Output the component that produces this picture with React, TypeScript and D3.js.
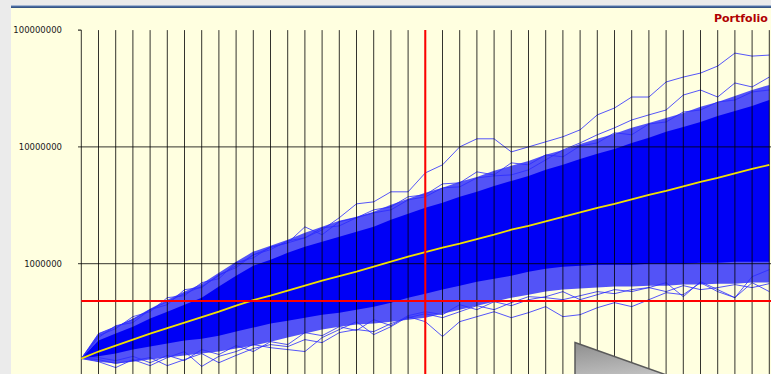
import React from "react";
import * as d3 from "d3";

// Simulation years (x axis categories)
const years = [0,1,2,3,4,5,6,7,8,9,10,11,12,13,14,15,16,17,18,19,20,21,22,23,24,25,26,27,28,29,30,31,32,33,34,35,36,37,38,39,40];

// Portfolio values in thousands
const medianK = [154,177,199,224,252,281,313,349,389,438,488,533,588,649,716,782,855,943,1040,1148,1254,1370,1482,1620,1770,1953,2113,2308,2522,2756,3010,3257,3558,3888,4206,4597,5022,5433,5936,6486,7018];

// outer (sparse-line) envelope of the bundle
const fringeTopK = [154,252,289,339,412,492,577,675,837,1038,1269,1422,1600,1841,2067,2333,2519,2779,3190,3590,4046,4462,5019,5538,6235,6882,7588,8550,9420,10608,11730,12954,14560,16016,17680,19552,22019,24231,27255,30700,33900];
const fringeBottomK = [154,145,140,145,151,157,164,170,177,188,199,215,233,252,273,289,301,307,319,332,345,373,404,437,473,512,543,577,600,612,624,637,637,649,649,662,662,675,675,689,689];

// solid core of the bundle
const coreTopK = [154,220,252,289,339,388,446,512,637,789,962,1080,1238,1394,1538,1702,1875,2067,2380,2672,3006,3318,3740,4125,4637,5118,5647,6360,7020,7895,8721,9608,10816,11960,13462,14808,16346,18431,20294,22451,25200];
const coreBottomK = [154,161,170,184,195,207,220,228,242,263,284,307,325,345,366,381,404,429,464,512,554,600,649,702,745,789,855,907,943,962,981,981,981,1001,1001,1001,1021,1021,1040,1040,1040];

// individual stray paths that stand out of the bundle
const pathHigh1K = [154,252,289,332,404,473,554,637,789,962,1190,1373,1508,1664,1950,2475,3254,3385,4125,4125,5990,7020,10000,11730,11730,9058,10000,11058,12212,14000,18800,21528,26731,26731,35962,39615,42848,49216,63544,59902,61100];
const pathHigh2K = [154,233,295,313,404,446,600,624,805,925,1190,1320,1569,1664,2028,2108,2475,2725,2890,3520,3740,4462,4548,5429,5647,5760,6360,7740,9420,10816,12700,14560,17000,18800,20700,27800,30700,26731,35256,32596,39615];
const pathHigh3K = [154,242,278,352,388,512,532,688,745,1020,1123,1394,1508,2067,1770,2288,2475,2890,3067,3740,3890,4825,4919,6115,5760,7301,7020,8550,8221,10196,10816,13208,12700,15708,16346,19904,20700,24231,25200,29519,30700];
const pathLow1K = [154,145,129,151,134,157,177,132,161,177,203,191,184,177,233,273,319,247,289,352,319,238,319,352,388,345,381,429,352,366,420,464,429,492,565,543,688,577,512,774,889];
const pathLow2K = [154,157,148,161,142,164,148,184,167,199,177,215,203,257,242,289,268,332,295,359,388,366,446,404,473,437,492,522,577,492,543,600,577,624,688,522,702,600,512,688,577];
const pathLow3K = [154,151,140,148,157,134,151,170,142,164,188,203,195,224,211,257,273,262,307,345,373,345,388,437,404,464,522,512,492,532,577,554,600,624,577,649,600,624,662,624,675];

const strayPaths = [pathHigh1K, pathHigh2K, pathHigh3K, pathLow1K, pathLow2K, pathLow3K];

const yTicks = [1000000, 10000000, 100000000];
const yGridValues = [1000000, 10000000];
const targetValue = 480000;
const targetYear = 20;
const titleText = "Portfolio";

export default function App() {
  const W = 771;
  const H = 374;
  const x = d3.scaleLinear().domain([0, 40]).range([81.3, 769.3]);
  const y = d3.scaleLog().domain([1e5, 1e8]).range([380.5, 30.1]);

  const band = (top: number[], bot: number[]) =>
    d3
      .area<number>()
      .x((_, i) => x(years[i]))
      .y0((_, i) => y(bot[i] * 1000))
      .y1((d) => y(d * 1000))(top) || "";

  const line = d3
    .line<number>()
    .x((_, i) => x(years[i]))
    .y((d) => y(d * 1000));

  const fmt = (v: number) => String(Math.round(v));

  return (
    <svg
      width={W}
      height={H}
      style={{ position: "fixed", left: 0, top: 0, display: "block" }}
      xmlns="http://www.w3.org/2000/svg"
    >
      <defs>
        <linearGradient id="topBar" x1="0" y1="0" x2="0" y2="1">
          <stop offset="0" stopColor="#5f82b8" />
          <stop offset="1" stopColor="#2c4a78" />
        </linearGradient>
        <linearGradient id="wedge" x1="0" y1="0" x2="0.3" y2="1">
          <stop offset="0" stopColor="#8e8e8e" />
          <stop offset="1" stopColor="#dcdcdc" />
        </linearGradient>
        <clipPath id="plotClip">
          <rect x={81} y={29} width={W - 81} height={H - 29} />
        </clipPath>
      </defs>

      {/* page & panel */}
      <rect x={0} y={0} width={W} height={H} fill="#ebebeb" />
      <rect x={11} y={7} width={W - 11} height={H - 7} fill="#ffffe0" />
      <rect x={11} y={5.5} width={W - 11} height={2.5} fill="url(#topBar)" />

      <g clipPath="url(#plotClip)">
        {/* bundle of simulated paths */}
        <path d={band(fringeTopK, fringeBottomK)} fill="#1010ff" fillOpacity={0.72} />
        <path d={band(coreTopK, coreBottomK)} fill="#0000f6" />
        {strayPaths.map((p, i) => (
          <path
            key={i}
            d={line(p) || ""}
            fill="none"
            stroke="#2a2aff"
            strokeOpacity={0.8}
            strokeWidth={1}
          />
        ))}
      </g>

      {/* grid */}
      {years.map((yr) => (
        <line
          key={"v" + yr}
          x1={x(yr)}
          x2={x(yr)}
          y1={y(1e8)}
          y2={H}
          stroke="#000"
          strokeOpacity={0.8}
          strokeWidth={1}
        />
      ))}
      {yGridValues.map((v) => (
        <line
          key={"h" + v}
          x1={78}
          x2={W}
          y1={y(v)}
          y2={y(v)}
          stroke="#000"
          strokeOpacity={0.8}
          strokeWidth={1}
        />
      ))}
      <line x1={78} x2={x(0)} y1={y(1e8)} y2={y(1e8)} stroke="#000" strokeWidth={1} />

      {/* median path */}
      <path d={line(medianK) || ""} fill="none" stroke="#f0e000" strokeWidth={1.8} />

      {/* target cross-hair */}
      <line x1={x(targetYear)} x2={x(targetYear)} y1={y(1e8)} y2={H} stroke="#ff0000" strokeWidth={2} />
      <line x1={x(0)} x2={W} y1={y(targetValue)} y2={y(targetValue)} stroke="#ff0000" strokeWidth={2} />

      {/* grey wedge in the corner */}
      <polygon
        points="575,342.5 720,394 720,400 575,400"
        fill="url(#wedge)"
        stroke="#5a5a5a"
        strokeWidth={1.5}
      />

      {/* y tick labels */}
      {yTicks.map((v) => (
        <text
          key={"t" + v}
          x={62}
          y={y(v)}
          dy="0.35em"
          textAnchor="end"
          fontFamily="'DejaVu Sans', Verdana, sans-serif"
          fontSize={8.5}
          fill="#1a1a1a"
        >
          {fmt(v)}
        </text>
      ))}

      <text
        x={714}
        y={21.5}
        fontFamily="'DejaVu Sans', Verdana, sans-serif"
        fontWeight="bold"
        fontSize={11}
        fill="#b00000"
      >
        {titleText}
      </text>
    </svg>
  );
}
